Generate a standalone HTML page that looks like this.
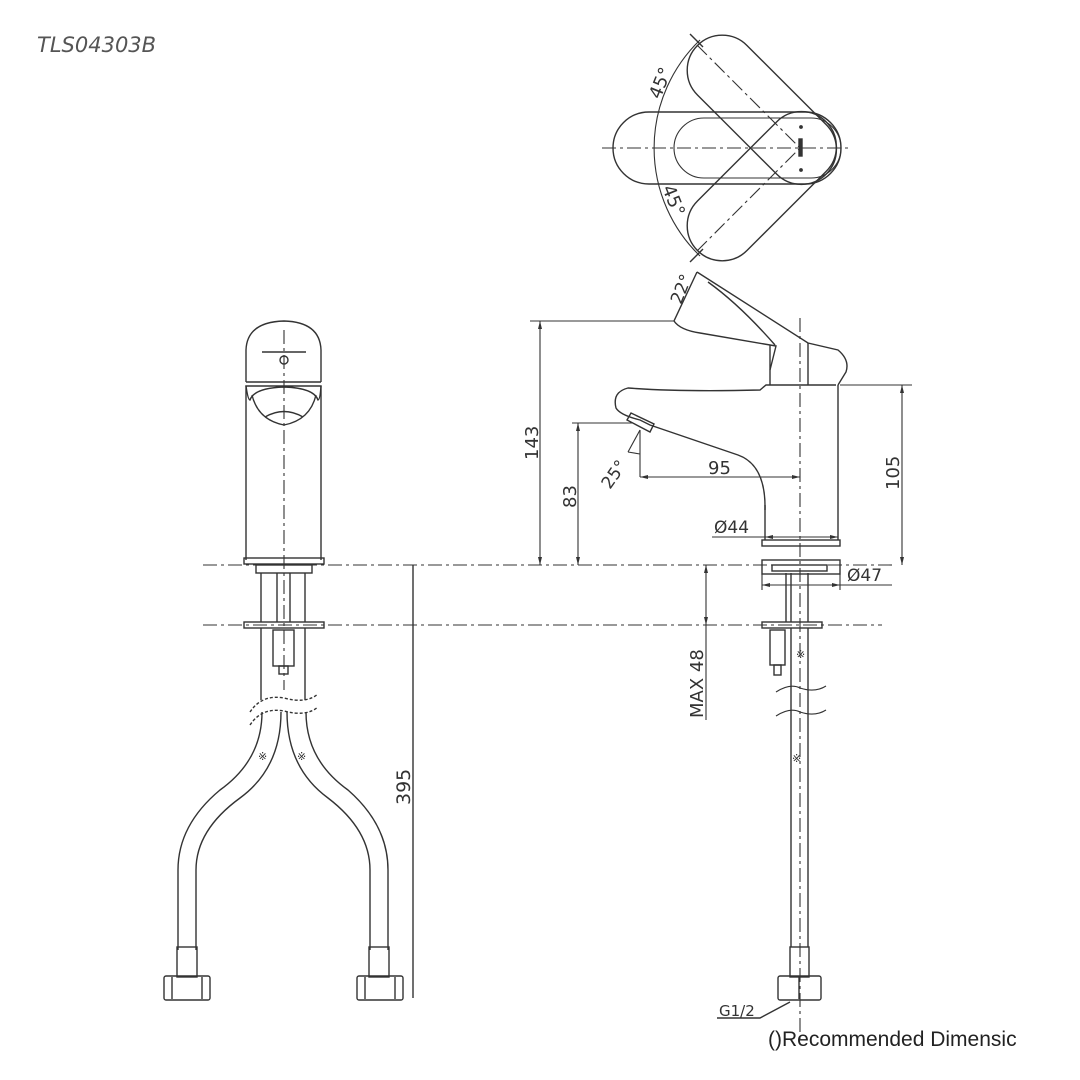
<!DOCTYPE html>
<html><head><meta charset="utf-8"><style>
html,body{margin:0;padding:0;background:#fff}
svg{display:block}
text{font-family:"DejaVu Sans","Liberation Sans",sans-serif;fill:#333}
</style></head><body>
<svg width="1080" height="1080" viewBox="0 0 1080 1080" xmlns="http://www.w3.org/2000/svg">
<rect width="1080" height="1080" fill="#fff"/>
<text x="37" y="52" font-size="21" font-style="italic" style="fill:#555">TLS04303B</text>

<g fill="none" stroke="#333" stroke-width="1.4">
<g stroke-dasharray="14,4,3,4" stroke-width="1.1">
<line x1="203" y1="565" x2="892" y2="565"/>
<line x1="203" y1="625" x2="882" y2="625"/>
<line x1="284" y1="330" x2="284" y2="690"/>
<line x1="800" y1="318" x2="800" y2="1040"/>
<line x1="602" y1="148" x2="850" y2="148"/>
<line x1="697" y1="45" x2="800" y2="148"/>
<line x1="697" y1="251" x2="800" y2="148"/>
</g>

<!-- FRONT VIEW -->
<path d="M246,382 L246,350 Q247,322 284,321 Q320,322 321,350 L321,382"/>
<line x1="246" y1="382" x2="321" y2="382"/>
<line x1="262" y1="352" x2="306" y2="352"/>
<circle cx="284" cy="360" r="4"/>
<path d="M246,386 Q248,400 250,400 Q254,388 284,387 Q314,388 318,400 Q320,400 321,386 Z"/>
<path d="M252,395 Q258,420 284,425 Q310,420 316,395"/>
<path d="M265,417 Q284,406 303,417"/>
<line x1="246" y1="386" x2="246" y2="560"/>
<line x1="321" y1="386" x2="321" y2="560"/>
<rect x="244" y="558" width="80" height="6"/>
<rect x="256" y="565" width="56" height="8"/>
<line x1="261" y1="573" x2="261" y2="622"/>
<line x1="305" y1="573" x2="305" y2="622"/>
<line x1="277" y1="573" x2="277" y2="622"/>
<line x1="290" y1="573" x2="290" y2="622"/>
<rect x="244" y="622" width="80" height="6"/>
<rect x="273" y="630" width="21" height="36"/>
<rect x="279" y="666" width="9" height="8"/>
<line x1="261" y1="628" x2="261" y2="700"/>
<line x1="305" y1="628" x2="305" y2="700"/>
<path d="M250,712 Q262,694 284,698 Q306,704 318,694" stroke-dasharray="3,2"/>
<path d="M250,725 Q262,707 284,711 Q306,717 318,707" stroke-dasharray="3,2"/>
<path d="M262,712 Q262,760 220,790 Q178,825 178,870 L178,950"/>
<path d="M281,712 Q281,768 240,798 Q196,830 196,870 L196,950"/>
<path d="M287,712 Q287,768 328,798 Q370,830 370,870 L370,950"/>
<path d="M306,712 Q306,760 348,790 Q388,825 388,870 L388,950"/>
<rect x="177" y="947" width="20" height="30"/>
<rect x="369" y="947" width="20" height="30"/>
<rect x="164" y="976" width="46" height="24" rx="2"/>
<rect x="357" y="976" width="46" height="24" rx="2"/>
<line x1="172" y1="977" x2="172" y2="999"/><line x1="202" y1="977" x2="202" y2="999"/>
<line x1="365" y1="977" x2="365" y2="999"/><line x1="395" y1="977" x2="395" y2="999"/>
<line x1="413" y1="565" x2="413" y2="998"/>
</g>
<text transform="translate(410,805) rotate(-90)" font-size="19">395</text>
<text x="258" y="760" font-size="11">※</text>
<text x="297" y="760" font-size="11">※</text>

<!-- TOP VIEW -->
<g fill="none" stroke="#333" stroke-width="1.4">
<path d="M700,40 A150,150 0 0 0 700,256" stroke-width="1.1"/>
<line x1="690" y1="34" x2="703" y2="47"/>
<line x1="690" y1="262" x2="703" y2="249"/>
<rect x="613" y="112" width="228" height="72" rx="36"/>
<rect x="674" y="118" width="167" height="60" rx="30" stroke-width="1.1"/>
<rect x="655" y="113" width="182" height="70" rx="35" transform="rotate(45 800 148)"/>
<rect x="655" y="113" width="182" height="70" rx="35" transform="rotate(-45 800 148)"/>
<rect x="799" y="139" width="3" height="17" fill="#333"/>
<circle cx="801" cy="127" r="1.2" fill="#333"/>
<circle cx="801" cy="170" r="1.2" fill="#333"/>
</g>
<text transform="translate(660,100) rotate(-68)" font-size="18">45°</text>
<text transform="translate(662,188) rotate(68)" font-size="18">45°</text>

<!-- SIDE VIEW -->
<g fill="none" stroke="#333" stroke-width="1.4">
<path d="M697,272 L674,321 Q680,330 700,333 L776,346 L770,370"/>
<path d="M697,272 L808,343 L838,350 Q850,360 846,372 L838,385"/>
<path d="M708,282 Q740,305 775,345"/>
<line x1="770" y1="345" x2="770" y2="385"/>
<line x1="808" y1="343" x2="808" y2="385"/>
<path d="M836,385 L766,385 L760,390 Q680,392 628,388 Q612,392 616,408 Q620,415 640,420 L650,425 L738,455 Q766,465 765,510"/>
<path d="M631,413 L654,424 L650,432 L627,420 Z"/>
<line x1="838" y1="385" x2="838" y2="540"/>
<line x1="765" y1="505" x2="765" y2="540"/>
<rect x="762" y="540" width="78" height="6"/>
<rect x="762" y="560" width="78" height="14"/>
<rect x="772" y="565" width="55" height="6"/>
<line x1="786" y1="573" x2="786" y2="622"/>
<line x1="791" y1="573" x2="791" y2="622"/>
<line x1="808" y1="573" x2="808" y2="622"/>
<rect x="762" y="622" width="60" height="6"/>
<rect x="770" y="630" width="15" height="35"/>
<rect x="774" y="665" width="7" height="10"/>
<line x1="791" y1="628" x2="791" y2="947"/>
<line x1="808" y1="628" x2="808" y2="947"/>
<path d="M776,692 Q790,683 800,688 Q815,693 826,686" stroke-width="1.1"/>
<path d="M776,716 Q790,707 800,712 Q815,717 826,710" stroke-width="1.1"/>
<rect x="790" y="947" width="19" height="30"/>
<rect x="778" y="976" width="43" height="24" rx="2"/>
<line x1="799" y1="977" x2="799" y2="999"/>
<path d="M717,1018 L760,1018 L790,1002"/>
<g stroke-width="1.1">
<line x1="530" y1="321" x2="674" y2="321"/><line x1="540" y1="321" x2="540" y2="565"/>
<line x1="572" y1="423" x2="632" y2="423"/><line x1="578" y1="423" x2="578" y2="565"/>
<line x1="840" y1="385" x2="912" y2="385"/><line x1="902" y1="385" x2="902" y2="565"/>
<line x1="640" y1="430" x2="640" y2="477"/><line x1="640" y1="477" x2="800" y2="477"/>
<line x1="640" y1="454" x2="628" y2="452"/><line x1="628" y1="452" x2="640" y2="430"/>
<line x1="712" y1="537" x2="838" y2="537"/>
<line x1="762" y1="574" x2="762" y2="590"/><line x1="840" y1="574" x2="840" y2="590"/>
<line x1="762" y1="585" x2="892" y2="585"/>
<line x1="706" y1="565" x2="706" y2="720"/>
</g>
</g>
<g fill="#333">
<path d="M540,321 l-2,8 h4z"/><path d="M540,565 l-2,-8 h4z"/>
<path d="M578,423 l-2,8 h4z"/><path d="M578,565 l-2,-8 h4z"/>
<path d="M902,385 l-2,8 h4z"/><path d="M902,565 l-2,-8 h4z"/>
<path d="M800,477 l-8,-2 v4z"/><path d="M640,477 l8,-2 v4z"/>
<path d="M765,537 l8,-2 v4z"/><path d="M838,537 l-8,-2 v4z"/>
<path d="M762,585 l8,-2 v4z"/><path d="M840,585 l-8,-2 v4z"/>
<path d="M706,565 l-2,8 h4z"/><path d="M706,625 l-2,-8 h4z"/>
</g>
<text transform="translate(538,460) rotate(-90)" font-size="18">143</text>
<text transform="translate(576,508) rotate(-90)" font-size="18">83</text>
<text transform="translate(899,490) rotate(-90)" font-size="18">105</text>
<text transform="translate(703,718) rotate(-90)" font-size="18">MAX 48</text>
<text x="708" y="474" font-size="18">95</text>
<text x="714" y="533" font-size="17">Ø44</text>
<text x="847" y="581" font-size="17">Ø47</text>
<text transform="translate(610,490) rotate(-55)" font-size="17">25°</text>
<text transform="translate(681,305) rotate(-68)" font-size="17">22°</text>
<text x="719" y="1016" font-size="15">G1/2</text>
<text x="796" y="658" font-size="11">※</text>
<text x="792" y="762" font-size="11">※</text>
<text x="768" y="1046" font-size="21" style="font-family:'Liberation Sans',sans-serif;fill:#222">()Recommended Dimensic</text>
</svg>
</body></html>
